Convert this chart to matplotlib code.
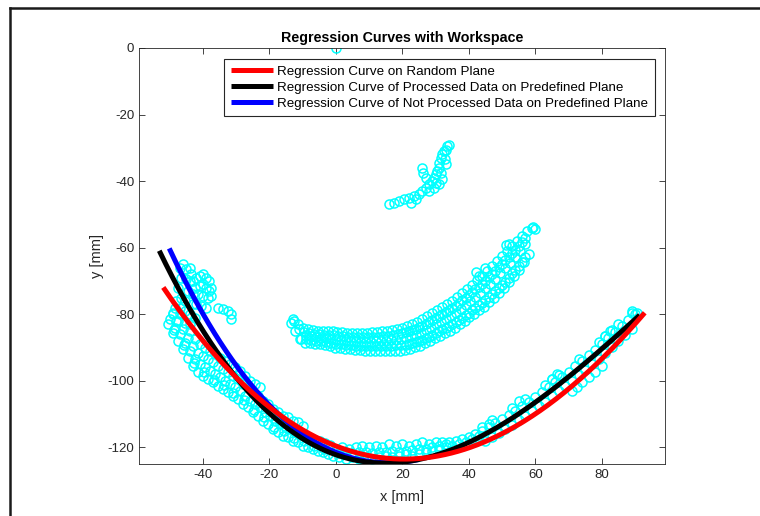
import numpy as np
import matplotlib
matplotlib.use("Agg")
import matplotlib.pyplot as plt
from matplotlib.lines import Line2D

plt.rcParams['font.family'] = ['Liberation Sans', 'DejaVu Sans']
plt.rcParams['axes.unicode_minus'] = False

# ---- regression curves (cubic coefficients, highest power first) and x ranges ----
red_coef = [-9.81288e-06, 0.00971711, -0.387146, -119.585]
red_range = [-51.9, 92.9]
black_coef = [-4.34487e-05, 0.01283, -0.350571, -122.219]
black_range = [-53.1, 91.4]
blue_coef = [-4.34487e-05, 0.01403, -0.410571, -121.469]
blue_range = [-50.1, 25.0]

labels = ['Regression Curve on Random Plane',
          'Regression Curve of Processed Data on Predefined Plane',
          'Regression Curve of Not Processed Data on Predefined Plane']

# ---- workspace scatter clusters ----
a1_x = [-50.5,-49,-47.5,-46,-44.5,-43,-41.5,-40,-38.5,-37,-35.5,-34,-32.5,-31,-29.5,-28,-26.5,-25,-23.5,-22,-20.5,-19,-17.5,-16,-14.5,-13,-11.5,-10,-8.5,-7,-5.5,-4,-2.5,-1]
a1_y = [-83,-85.5,-88,-90.5,-93,-95.5,-97.5,-98.5,-99.5,-100.5,-101.5,-102.5,-103.5,-104.5,-105.5,-107,-108,-109.5,-110.5,-112,-113,-114.5,-115.5,-116.5,-117,-118,-118.5,-119.5,-120,-120.5,-121,-121.5,-122,-122.5]
a2_x = [-49.8,-48.3,-46.8,-45.3,-43.8,-42.3,-40.8,-39.3,-37.8,-36.3,-34.8,-33.3,-31.8,-30.3,-28.8,-27.3,-25.8,-24.3,-22.8,-21.3,-19.8,-18.3,-16.8,-15.3,-13.8,-12.3,-10.8,-9.3,-7.8,-6.3,-4.8,-3.3,-1.8]
a2_y = [-81.5,-84,-86,-88.5,-91,-93.5,-95,-96,-97,-98,-99,-100,-101,-102,-103,-104.5,-106,-107,-108,-109.5,-110.5,-112,-113,-113.5,-114.5,-115.3,-116,-116.7,-117.2,-117.7,-118.2,-118.7,-119.2]
a3_x = [-49,-47.5,-46,-44.5,-43,-41.5,-40,-38.5,-37,-35.5,-34,-32.5,-31,-29.5,-28,-26.5,-25,-23.5,-22,-20.5,-19,-17.5,-16,-14.5,-13,-11.5,-10]
a3_y = [-79.5,-82,-84.5,-87,-89.5,-91.5,-92.5,-93.5,-94.5,-95.5,-96.5,-97.5,-98.5,-99.5,-101,-102,-103.5,-104.5,-106,-107,-108.5,-109.5,-110.5,-111,-112,-112.5,-113.5]
a4_x = [-48.3,-46.8,-45.3,-43.8,-42.3,-40.8,-39.3,-37.8,-36.3,-34.8,-33.3,-31.8,-30.3,-28.8,-27.3,-25.8,-24.3,-22.8]
a4_y = [-78,-80,-82.5,-85,-87.5,-89,-90,-91,-92,-93,-94,-95,-96,-97,-98.5,-100,-101,-102]
a5_x = [-48.8,-45.6,-42.8,-39.6,-36.6,-33.6,-30.8,-27.6,-24.6,-21.6,-18.6,-15.6,-12.6,-9.6,-6.6,-3.6]
a5_y = [-84.8,-89.2,-94.8,-97.3,-99.8,-101.3,-103.7,-105.8,-108.8,-110.8,-113.8,-115.1,-117.1,-118.1,-119.6,-120.6]
up_x = [-47,-46,-45,-44,-43.5,-46.5,-45,-44,-43,-42,-41,-40,-39,-38,-37.5,-42.5,-41,-40,-39,-38,-43,-41.5,-40,-38.5,-37.5,-44.5,-43,-42,-40.5,-39,-45.5,-44,-42.5,-47.5,-46.5,-48,-47,-45.5,-44,-49,-48]
up_y = [-66,-65,-66.5,-66,-68,-69,-69.5,-70,-70,-69,-68.5,-68,-69,-70,-72,-72,-71.5,-71,-72,-73,-74,-74,-74.5,-75,-74.5,-73,-77,-77,-77.5,-78,-76,-80,-81,-72,-75,-76,-78,-79,-83,-80,-82]
out_x = [-35.5, -34, -32.5, -31.5, -31.5]
out_y = [-78, -78.5, -79, -80, -81.5]
b1_x = [0,2,4,6,8,10,12,14,16,18,20,22,24,26,28,30,32,34,36,38,40,42,44,46,48,50,52,54,56,58,60,62,64,66,68,70,72,74,76,78,80,82,84,86,88,90]
b1_y = [-120.5,-120,-120.5,-120,-119.5,-120,-119.5,-120,-119,-119.5,-119,-119.5,-119,-118.5,-119,-118.5,-118.5,-118.5,-118,-117.5,-117,-116,-115,-113.9,-112.8,-111.6,-110.4,-109.1,-107.7,-106.4,-105,-103.5,-102,-100.5,-98.9,-97.3,-95.7,-94,-92.3,-90.6,-88.9,-87.1,-85.4,-83.6,-81.8,-80]
b2_x = [1,3,5,7,9,11,13,15,17,19,21,23,25,27,29,31,33,35,37,39,41,43,45,47,49,51,53,55,57,59,61,63,65,67,69,71,73,75,77,79,81,83,85,87,89]
b2_y = [-123,-123.5,-123,-123.5,-123,-123.5,-123,-122.5,-123,-122.5,-122,-122.5,-122,-121.5,-121,-120.5,-120,-119.5,-119,-118.5,-117.5,-116.5,-118,-116.9,-115.7,-114.5,-113.2,-111.9,-110.6,-109.2,-107.7,-106.3,-104.7,-103.2,-101.6,-100,-98.3,-96.7,-95,-93.3,-91.5,-89.8,-88,-86.2,-84.4]
b3_x = [47,53,57,63,65,67,73,79,81,83,85,89]
b3_y = [-111.8,-108.2,-105.4,-101.2,-99.5,-98.2,-93.3,-88.2,-86.4,-84.6,-83,-79.6]
b4_x = [1,3,5,7,9,11,13,15,17,19,21,23,25,27,29,31,33]
b4_y = [-121.8,-121.5,-121.8,-121.5,-121.5,-121.8,-121.3,-121.5,-121,-121.3,-121,-120.8,-120.5,-120.5,-120,-119.5,-119]
bx_x = [65,66.5,81,82.5,89,90.5,71,72.5,74,76,78,80,55,44,46]
bx_y = [-99.5,-98,-86.5,-85,-79,-79.5,-103,-102,-100.5,-99,-97.5,-95.5,-106,-114,-113]
m_top_x = [-13,-11.5,-10,-8.5,-7,-5.5,-4,-2.5,-1,0.5,2,3.5,5,6.5,8,9.5,11,12.5,14,15.5,17,18.5,20,21.5,23,24.5,26,27.5,29,30.5,32,33.5,35,36.5,38,39.5,41,42.5,44,45.5,47,48.5,50,51.5,53,54.5,56,57.5,59]
m_top_y = [-81.5,-83,-84,-84.3,-84.6,-85,-85,-85,-85,-85.2,-85.3,-85.5,-85.5,-85.5,-85.5,-85.5,-85.4,-85.2,-85,-84.9,-84.6,-84.3,-84,-83.4,-82.8,-82.2,-81.4,-80.5,-79.6,-78.7,-77.8,-76.9,-76,-74.8,-73.6,-72.4,-71.1,-69.8,-68.4,-67,-65.5,-64,-62.5,-61,-59.5,-58,-56.5,-55,-54]
m_bot_x = [-12.3,-10.8,-9.3,-7.8,-6.3,-4.8,-3.3,-1.8,-0.3,1.2,2.7,4.2,5.7,7.2,8.7,10.2,11.7,13.2,14.7,16.2,17.7,19.2,20.7,22.2,23.7,25.2,26.7,28.2,29.7,31.2,32.7,34.2,35.7,37.2,38.7,40.2,41.7,43.2,44.7,46.2,47.7,49.2,50.7,52.2,53.7,55.2,56.7,58.2]
m_bot_y = [-85,-87.5,-88.5,-88.7,-88.9,-89,-89.3,-89.6,-90,-90.1,-90.3,-90.4,-90.6,-90.7,-90.9,-91,-91,-91,-91,-91,-91,-91,-90.8,-90.4,-89.9,-89.4,-88.7,-88,-87.2,-86.4,-85.6,-84.9,-84,-83,-82,-80.9,-79.9,-78.8,-77.7,-76.4,-75.1,-73.7,-72.2,-70.4,-68.6,-66.8,-64.4,-61.8]
m_mid_x = [-9,-7.5,-6,-4.5,-3,-1.5,0,1.5,3,4.5,6,7.5,9,10.5,12,13.5,15,16.5,18,19.5,21,22.5,24,25.5,27,28.5,30,31.5,33,34.5,36,37.5,39,40.5,42,43.5,45,46.5,48,49.5,51,52.5,54,55.5,57]
m_mid_y = [-86.4,-86.6,-86.9,-87,-87.2,-87.4,-87.5,-87.7,-87.8,-88,-88.1,-88.2,-88.2,-88.2,-88.1,-88,-88,-87.8,-87.7,-87.5,-87,-86.6,-86.1,-85.5,-84.8,-84,-83,-82.2,-81.3,-80.4,-79.5,-78.3,-77.2,-76,-74.8,-73.5,-72.2,-70.8,-69.3,-67.7,-66.1,-64.5,-62.8,-61,-59]
m_q1_x = [-11.2,-9.7,-8.2,-6.7,-5.2,-3.7,-2.2,-0.7,0.8,2.3,3.8,5.3,6.8,8.3,9.8,11.3,12.8,14.3,15.8,17.3,18.8,20,21,22,23,24,25,26,27,28,29,30,31,32,33,34,35,36,37,38,39,40,41,42,43,44,45,46,47,48,49,50,51,52,53,54,55,56,57]
m_q1_y = [-84.5,-85.3,-85.5,-85.8,-86,-86.1,-86.2,-86.3,-86.4,-86.5,-86.7,-86.8,-86.9,-86.9,-86.9,-86.8,-86.7,-86.5,-86.4,-86.2,-85.9,-85.7,-85.4,-85,-84.7,-84.3,-83.9,-83.4,-82.9,-82.3,-81.7,-81,-80.5,-79.9,-79.3,-78.7,-78.1,-77.4,-76.6,-75.8,-75,-74.2,-73.4,-72.5,-71.7,-70.8,-69.9,-68.9,-67.9,-66.9,-65.9,-64.9,-63.8,-62.7,-61.7,-60.7,-59.5,-58.3,-57]
m_q3_x = [-10.5,-9,-7.5,-6,-4.5,-3,-1.5,0,1.5,3,4.5,6,7.5,9,10.5,12,13.5,15,16.5,18,19.5,21,22,23,24,25,26,27,28,29,30,31,32,33,34,35,36,37,38,39,40,41,42,43,44,45,46,47,48,49,50,51,52,53,54,55,56,57]
m_q3_y = [-87.3,-87.5,-87.7,-87.9,-88.1,-88.3,-88.5,-88.8,-88.9,-89.1,-89.2,-89.4,-89.5,-89.6,-89.6,-89.6,-89.5,-89.5,-89.4,-89.3,-89.2,-89.2,-89,-88.7,-88.4,-88,-87.6,-87.2,-86.7,-86.2,-85.6,-85,-84.5,-84,-83.5,-82.9,-82.3,-81.7,-81,-80.2,-79.5,-78.7,-78,-77.2,-76.5,-75.7,-74.9,-74,-73.1,-72.1,-71.2,-70.2,-69,-67.7,-66.7,-65.6,-64.2,-62.8]
m_ex_x = [42.3,43,51.3,52,45,59.3,59.8,-13.5,-12.5]
m_ex_y = [-67.3,-68.5,-59.2,-59,-66,-53.7,-54.5,-82.5,-82]
c_x = [16,17.5,19,20.5,22,23.5,25,26,27,28,29,29.5,30,30.5,31,31,31.5,32,32.5,33,33.5,34,28,29.5,31,32,26,26.2,27,30,31.5,24,22.5,32.8,33.2]
c_y = [-47,-46.5,-46,-45.5,-45,-44.5,-44,-43,-42,-41,-40,-39,-38,-37,-36,-34.5,-33,-32,-31,-30.5,-29.5,-29,-43,-42,-41,-39.5,-36,-37.5,-39,-40.5,-37.5,-45.5,-46.5,-33.5,-35]
o_x = [0]
o_y = [0]

fig = plt.figure(figsize=(7.6, 5.16), dpi=100)
ax = fig.add_axes([139/760, 1-464/516, (665-139)/760, (464-48)/516])

sx = (a1_x + a2_x + a3_x + a4_x + a5_x + up_x + out_x + b1_x + b2_x + b3_x + b4_x + bx_x
      + m_top_x + m_bot_x + m_mid_x + m_q1_x + m_q3_x + m_ex_x + c_x + o_x)
sy = (a1_y + a2_y + a3_y + a4_y + a5_y + up_y + out_y + b1_y + b2_y + b3_y + b4_y + bx_y
      + m_top_y + m_bot_y + m_mid_y + m_q1_y + m_q3_y + m_ex_y + c_y + o_y)
ax.plot(sx, sy, 'o', mfc='none', mec=(0, 1, 1), ms=6.5, mew=1.1, zorder=2)

hs = {}
for name, coef, rng, col, z in [('blue', blue_coef, blue_range, 'b', 3),
                                ('black', black_coef, black_range, 'k', 4),
                                ('red', red_coef, red_range, 'r', 5)]:
    xx = np.linspace(rng[0], rng[1], 300)
    hs[name], = ax.plot(xx, np.polyval(coef, xx), color=col, lw=3.6, zorder=z, solid_capstyle='butt')

ax.set_xlim(-59.2, 99)
ax.set_ylim(-125, 0)
ax.set_xticks([-40, -20, 0, 20, 40, 60, 80])
ax.set_yticks([-120, -100, -80, -60, -40, -20, 0])
ax.tick_params(direction='in', length=4, top=True, right=True, labelsize=9.5, colors='#262626', width=0.6)
for s in ax.spines.values():
    s.set_color('#262626')
    s.set_linewidth(0.6)
ax.set_title('Regression Curves with Workspace', fontsize=10.3, fontweight='bold', pad=4)
ax.set_xlabel('x [mm]', fontsize=10.5, color='#262626')
ax.set_ylabel('y [mm]', fontsize=10.5, color='#262626')
ax.xaxis.set_label_coords(0.5, (464-490)/416)
ax.yaxis.set_label_coords((104-139)/526, 0.5)

leg = ax.legend([hs['red'], hs['black'], hs['blue']], labels, loc='upper right',
                bbox_to_anchor=(1 - 10/526, 1 - 11/416), borderaxespad=0, fontsize=9.6,
                handlelength=3.2, handletextpad=0.3, labelspacing=0.26, borderpad=0.5,
                fancybox=False, framealpha=1, edgecolor='#262626')
leg.get_frame().set_linewidth(0.8)

fig.add_artist(Line2D([10/760, 10/760], [0, 1-8/516], color='#1a1a1a', lw=1.8, transform=fig.transFigure))
fig.add_artist(Line2D([10/760, 1], [1-8/516, 1-8/516], color='#1a1a1a', lw=1.8, transform=fig.transFigure))

fig.savefig('out.png', dpi=100)
